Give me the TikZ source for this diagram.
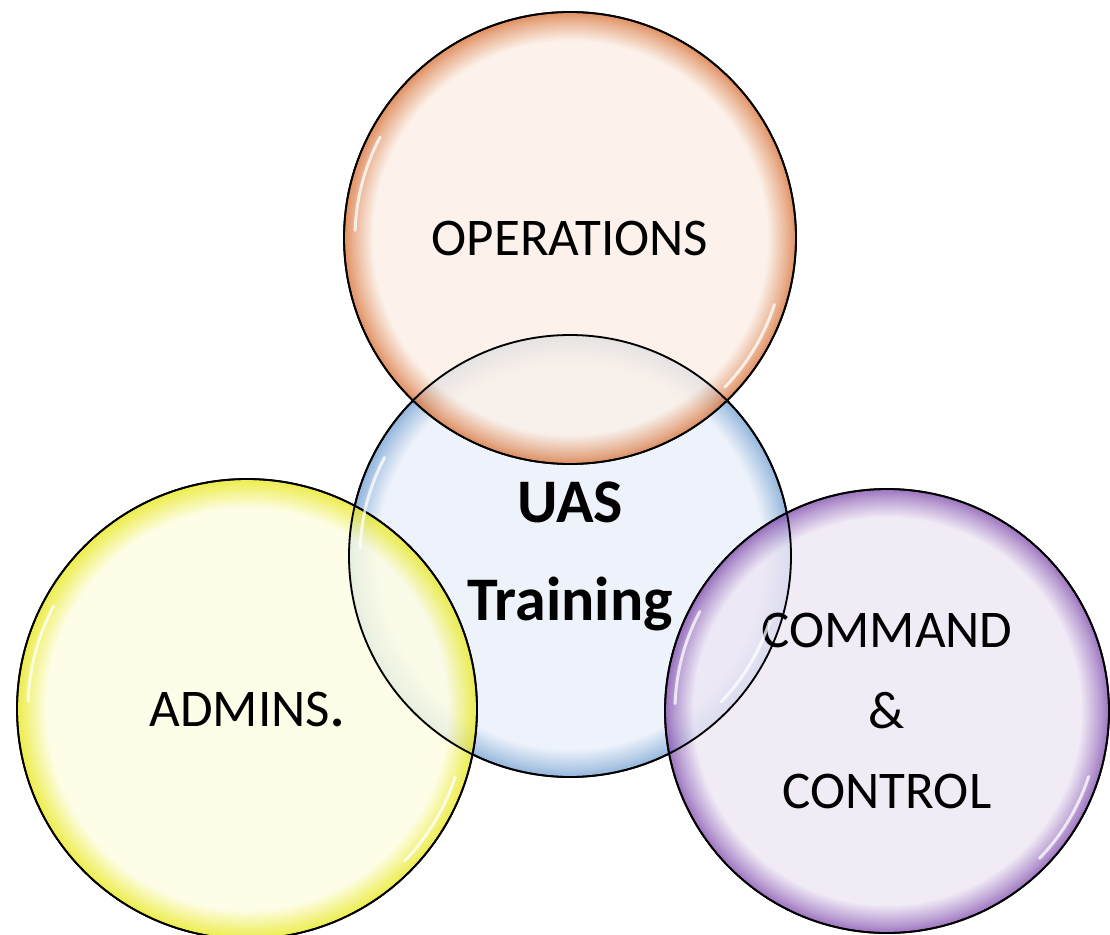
\documentclass[tikz,border=0pt]{standalone}
\usepackage{fontspec}
\setmainfont{Carlito}
\usetikzlibrary{positioning}

\definecolor{opsin}{HTML}{FBEFE6}
\definecolor{opsout}{HTML}{D8743A}
\definecolor{uasin}{HTML}{EAF0FA}
\definecolor{uasout}{HTML}{77A2D2}
\definecolor{admin}{HTML}{FDFDE2}
\definecolor{admout}{HTML}{E8E820}
\definecolor{cmdin}{HTML}{EDE6F4}
\definecolor{cmdout}{HTML}{8350AE}

\pgfdeclareradialshading{opsrim}{\pgfpointorigin}{color(0bp)=(opsin); color(21.8bp)=(opsin); color(24bp)=(opsout!65!opsin); color(25bp)=(opsout); color(50bp)=(opsout)}
\pgfdeclareradialshading{uasrim}{\pgfpointorigin}{color(0bp)=(uasin); color(21.8bp)=(uasin); color(24bp)=(uasout!65!uasin); color(25bp)=(uasout); color(50bp)=(uasout)}
\pgfdeclareradialshading{admrim}{\pgfpointorigin}{color(0bp)=(admin); color(21.8bp)=(admin); color(24bp)=(admout!70!admin); color(25bp)=(admout); color(50bp)=(admout)}
\pgfdeclareradialshading{cmdrim}{\pgfpointorigin}{color(0bp)=(cmdin); color(21.8bp)=(cmdin); color(24bp)=(cmdout!65!cmdin); color(25bp)=(cmdout); color(50bp)=(cmdout)}

\tikzset{bubble/.style={circle, draw=black, line width=1.8pt, inner sep=0pt,
  align=center, shade, fill opacity=0.8, draw opacity=1, text opacity=1},
  rim/.style={circle, draw=black, line width=1.8pt, inner sep=0pt},
  gloss/.style={white, line width=3pt, line cap=round, opacity=0.75}}

\begin{document}
\begin{tikzpicture}[x=1pt,y=1pt]
      \useasboundingbox (0,0) rectangle (1110,-934);

      \node [bubble, shading=uasrim, minimum size=442pt,
        font=\fontsize{62}{98}\selectfont\bfseries] (uas) at (570,-556) {UAS\\Training};
      \node [bubble, shading=opsrim, minimum size=452pt,
        font=\fontsize{53}{60}\selectfont] (ops) at (570,-238) {OPERATIONS};
      \node [bubble, shading=admrim, minimum size=460pt,
        font=\fontsize{53}{60}\selectfont] (adm) at (247,-709) {ADMINS\textbf{.}};
      \node [bubble, shading=cmdrim, minimum size=444pt,
        font=\fontsize{53}{80.5}\selectfont] (cmd) at (887,-711) {COMMAND\\\&\\CONTROL};

      % outlines again, so that every edge shows through the overlaps
      \foreach \n/\d in {uas/442, ops/452, adm/460, cmd/444}
        \node [rim, minimum size=\d pt] at (\n.center) {};

      % glossy highlights
      \foreach \n/\r in {uas/210, ops/215, adm/219, cmd/212} {
        \draw [gloss] ([shift={(152:\r)}]\n.center) arc [start angle=152, end angle=178, radius=\r];
        \draw [gloss] ([shift={(-18:\r)}]\n.center) arc [start angle=-18, end angle=-44, radius=\r];
      }
    \end{tikzpicture}
\end{document}
